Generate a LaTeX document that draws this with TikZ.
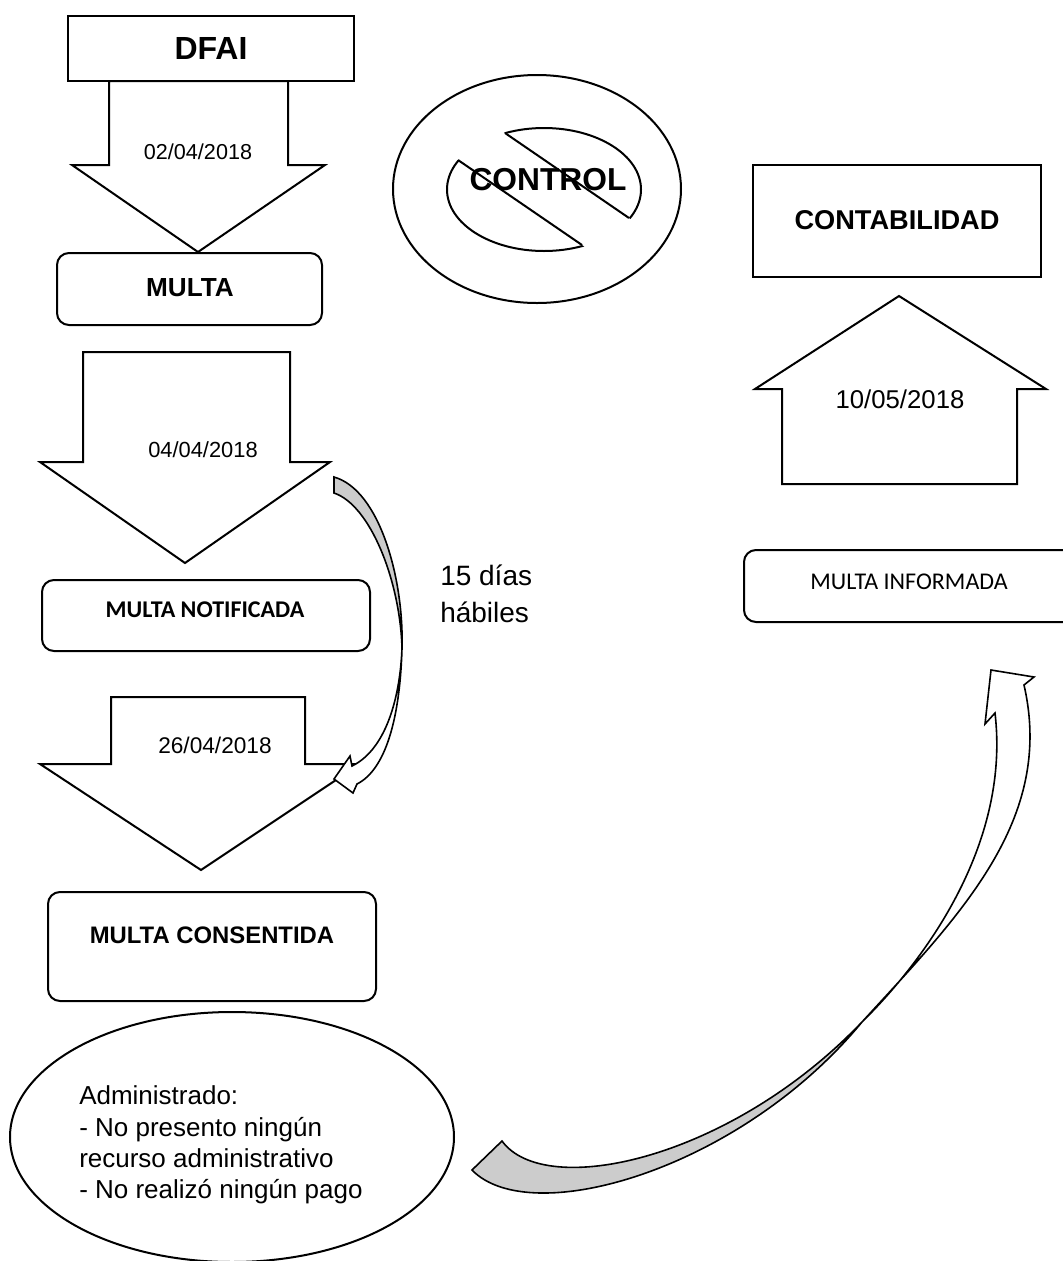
\documentclass[tikz,border=0pt]{standalone}
\usepackage{fontspec}
\setmainfont{Liberation Sans}
\newfontfamily\calibri{Carlito}
\begin{document}
\begin{tikzpicture}[x=0.75pt,y=-0.75pt,
  shape line/.style={draw=black,line width=1.5pt,line join=miter,fill=white},
  thin line/.style={draw=black,line width=1.2pt,line join=miter},
  roundbox/.style={shape line,rounded corners=9pt},
  backface/.style={thin line,fill=black!20},
  frontface/.style={thin line,fill=white},
  lbl/.style={inner sep=0pt,text=black}]
\useasboundingbox (0,0) rectangle (1063,1261);
\clip (0,0) rectangle (1063,1261);

% ---------- left column ----------
\draw[shape line] (68,16) rectangle (354,81);
\node[lbl,font=\bfseries\fontsize{24}{28}\selectfont] (dfai) at (211,48) {DFAI};

\draw[shape line] (109,81) -- (109,165) -- (72,165) -- (198,252) -- (325,165) -- (288,165) -- (288,81) -- cycle;
\node[lbl,font=\fontsize{16.2}{19}\selectfont] (d1) at (198,152) {02/04/2018};

\draw[roundbox] (57,253) rectangle (322,325);
\node[lbl,font=\bfseries\fontsize{19.6}{23}\selectfont] (multa) at (190,288) {MULTA};

\draw[shape line] (83,352) -- (83,462) -- (40,462) -- (185,563) -- (330,462) -- (290,462) -- (290,352) -- cycle;
\node[lbl,font=\fontsize{16.4}{19}\selectfont] (d2) at (203,450) {04/04/2018};

\draw[roundbox] (42,580) rectangle (370,651);
\node[lbl,font=\calibri\bfseries\fontsize{18}{22}\selectfont] (notif) at (205,610) {MULTA NOTIFICADA};

\draw[shape line] (111,697) -- (111,764) -- (40,764) -- (201,870) -- (360,764) -- (305,764) -- (305,697) -- cycle;
\node[lbl,font=\fontsize{17}{20}\selectfont] (d3) at (215,745) {26/04/2018};

\draw[roundbox] (48,892) rectangle (376,1001);
\node[lbl,font=\bfseries\fontsize{17.9}{21}\selectfont] (consent) at (212,935) {MULTA CONSENTIDA};

\draw[shape line] (232,1137) ellipse [x radius=222, y radius=125];
\node[lbl,anchor=west,align=left,font=\fontsize{19.5}{23.4}\selectfont] (admin) at (79,1145)
  {Administrado:\\- No presento ningún\\recurso administrativo\\- No realizó ningún pago};

% ---------- curved arrow: 15 días hábiles ----------
\coordinate (x1) at (402,648);
\draw[backface] (334,477) .. controls (380,490) and (404,580) .. (x1)
  .. controls (400,580) and (370,505) .. (334,493) -- cycle;
\draw[frontface] (x1) .. controls (400,720) and (385,770) .. (357,784)
  -- (353,793) -- (334,779) -- (350,756) -- (352,766)
  .. controls (385,750) and (400,700) .. (x1) -- cycle;
\node[lbl,anchor=west,align=left,font=\fontsize{21}{27.5}\selectfont] (dias) at (440,594) {15 días\\hábiles};

% ---------- control symbol ----------
\draw[shape line] (537,189) ellipse [x radius=144, y radius=114];
\begin{scope}
  \clip (334,75) -- (706,330) -- (334,330) -- cycle;
  \draw[line width=1.5pt] (544,189.5) ellipse [x radius=97, y radius=61.5];
\end{scope}
\begin{scope}
  \clip (381,48) -- (753,303) -- (753,48) -- cycle;
  \draw[line width=1.5pt] (544,189.5) ellipse [x radius=97, y radius=61.5];
\end{scope}
\draw[line width=1.5pt] (458,160) -- (582,245);
\draw[line width=1.5pt] (505,133) -- (629,218);
\node[lbl,font=\bfseries\fontsize{23.8}{28}\selectfont] (control) at (548,180) {CONTROL};

% ---------- right column ----------
\draw[shape line] (753,165) rectangle (1041,277);
\node[lbl,font=\bfseries\fontsize{20.4}{24}\selectfont] (contab) at (897,220) {CONTABILIDAD};

\draw[shape line] (782,484) -- (782,389) -- (755,389) -- (899,296) -- (1046,389) -- (1017,389) -- (1017,484) -- cycle;
\node[lbl,font=\fontsize{19.3}{23}\selectfont] (d4) at (900,399) {10/05/2018};

\draw[roundbox] (744,550) rectangle (1090,622);
\node[lbl,font=\calibri\fontsize{18}{22}\selectfont] (informada) at (909,582) {MULTA INFORMADA};

% ---------- curved arrow to the accounting step ----------
\coordinate (x2) at (862,1022);
\draw[backface] (472,1170) .. controls (530,1230) and (740,1170) .. (x2)
  .. controls (730,1160) and (545,1200) .. (502,1141) -- cycle;
\draw[frontface] (x2) .. controls (960,915) and (1055,820) .. (1024,685)
  -- (1034,677) -- (991,670) -- (985,724) -- (995,713)
  .. controls (1010,840) and (930,955) .. (x2) -- cycle;
\end{tikzpicture}
\end{document}
